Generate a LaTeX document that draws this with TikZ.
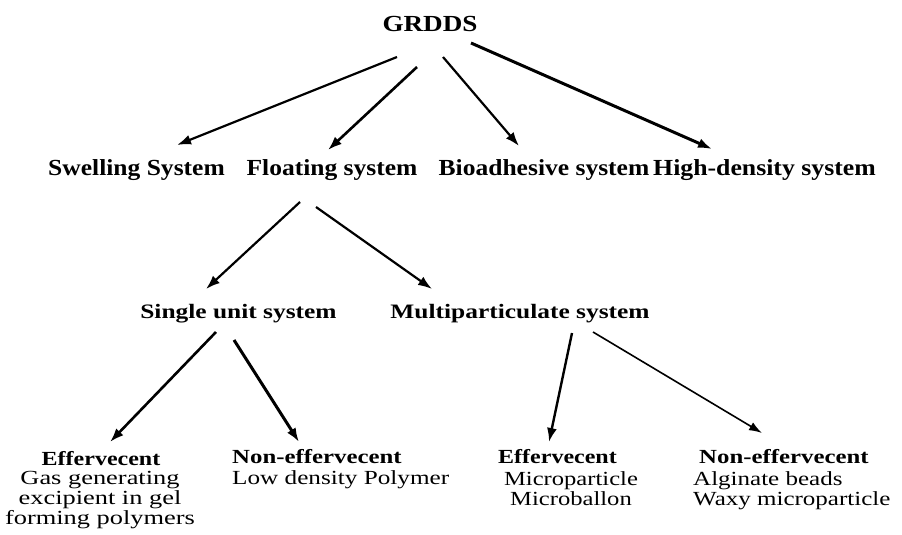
\documentclass[tikz,border=0pt]{standalone}
\usepackage{fontspec}
\setmainfont{Liberation Serif}
\usetikzlibrary{arrows.meta}
\newcommand\mylb[3]{\scalebox{#2}[1]{\fontsize{#1}{#1}\selectfont\bfseries #3}}
\newcommand\mylr[3]{\scalebox{#2}[1]{\fontsize{#1}{#1}\selectfont #3}}
\begin{document}
\begin{tikzpicture}[x=1pt,y=-1pt,
  arr/.style={-{Latex[length=14pt,width=10pt]}, line width=2.6pt},
  thinarr/.style={-{Latex[length=13pt,width=9pt]}, line width=1.6pt},
  lbl/.style={inner sep=0pt, anchor=base},
  lblw/.style={inner sep=0pt, anchor=base west}]
\useasboundingbox (0,0) rectangle (902,535);
\fill[white] (0,0) rectangle (902,535);

% texts
\node[lbl] (grdds) at (430,32) {\mylb{23}{1.18}{GRDDS}};
\node[lbl] (swell) at (136.5,175) {\mylb{23}{1.11}{Swelling System}};
\node[lbl] (float) at (332,175) {\mylb{23}{1.11}{Floating system}};
\node[lbl] (bio) at (544,175) {\mylb{23}{1.11}{Bioadhesive system}};
\node[lbl] (high) at (764.5,175) {\mylb{23}{1.12}{High-density system}};

\node[lbl] (single) at (238.5,318) {\mylb{20.5}{1.24}{Single unit system}};
\node[lbl] (multi) at (520,318) {\mylb{20.5}{1.24}{Multiparticulate system}};

\node[lbl] (eff1) at (101,465) {\mylb{20}{1.2}{Effervecent}};
\node[lbl] (eff1b) at (100,484) {\mylr{20}{1.32}{\begin{tabular}[t]{@{}c@{}}Gas generating\\excipient in gel\\forming polymers\end{tabular}}};
\node[lblw] (neff1) at (232,463) {\mylb{20}{1.24}{Non-effervecent}};
\node[lblw] (neff1b) at (232,484) {\mylr{20}{1.26}{Low density Polymer}};
\node[lblw] (eff2) at (498,463) {\mylb{20}{1.2}{Effervecent}};
\node[lbl] (eff2b) at (571,485) {\mylr{20}{1.23}{\begin{tabular}[t]{@{}c@{}}Microparticle\\Microballon\end{tabular}}};
\node[lblw] (neff2) at (699,463) {\mylb{20}{1.24}{Non-effervecent}};
\node[lblw] (neff2b) at (693,485) {\mylr{20}{1.25}{\begin{tabular}[t]{@{}l@{}}Alginate beads\\Waxy microparticle\end{tabular}}};

% connector end points
\coordinate (a1s) at (397,57);  \coordinate (a1e) at (177,145);
\coordinate (a2s) at (417,67);  \coordinate (a2e) at (328,150);
\coordinate (a3s) at (443,57);  \coordinate (a3e) at (519,146);
\coordinate (a4s) at (471,43);  \coordinate (a4e) at (712,149);
\coordinate (b1s) at (300,202); \coordinate (b1e) at (206,289);
\coordinate (b2s) at (316,207); \coordinate (b2e) at (432,289);
\coordinate (c1s) at (216,332); \coordinate (c1e) at (110,442);
\coordinate (c2s) at (234,340); \coordinate (c2e) at (299,442);
\coordinate (c3s) at (572,333); \coordinate (c3e) at (549,442);
\coordinate (c4s) at (593,332); \coordinate (c4e) at (762,433);

\draw[arr, line width=2.2pt] (a1s) -- (a1e);
\draw[arr] (a2s) -- (a2e);
\draw[arr, line width=2.2pt] (a3s) -- (a3e);
\draw[arr, line width=3pt] (a4s) -- (a4e);
\draw[arr, line width=2.2pt] (b1s) -- (b1e);
\draw[arr, line width=2.2pt] (b2s) -- (b2e);
\draw[arr] (c1s) -- (c1e);
\draw[arr, line width=3pt] (c2s) -- (c2e);
\draw[arr, line width=2.4pt] (c3s) -- (c3e);
\draw[thinarr] (c4s) -- (c4e);
\end{tikzpicture}
\end{document}
